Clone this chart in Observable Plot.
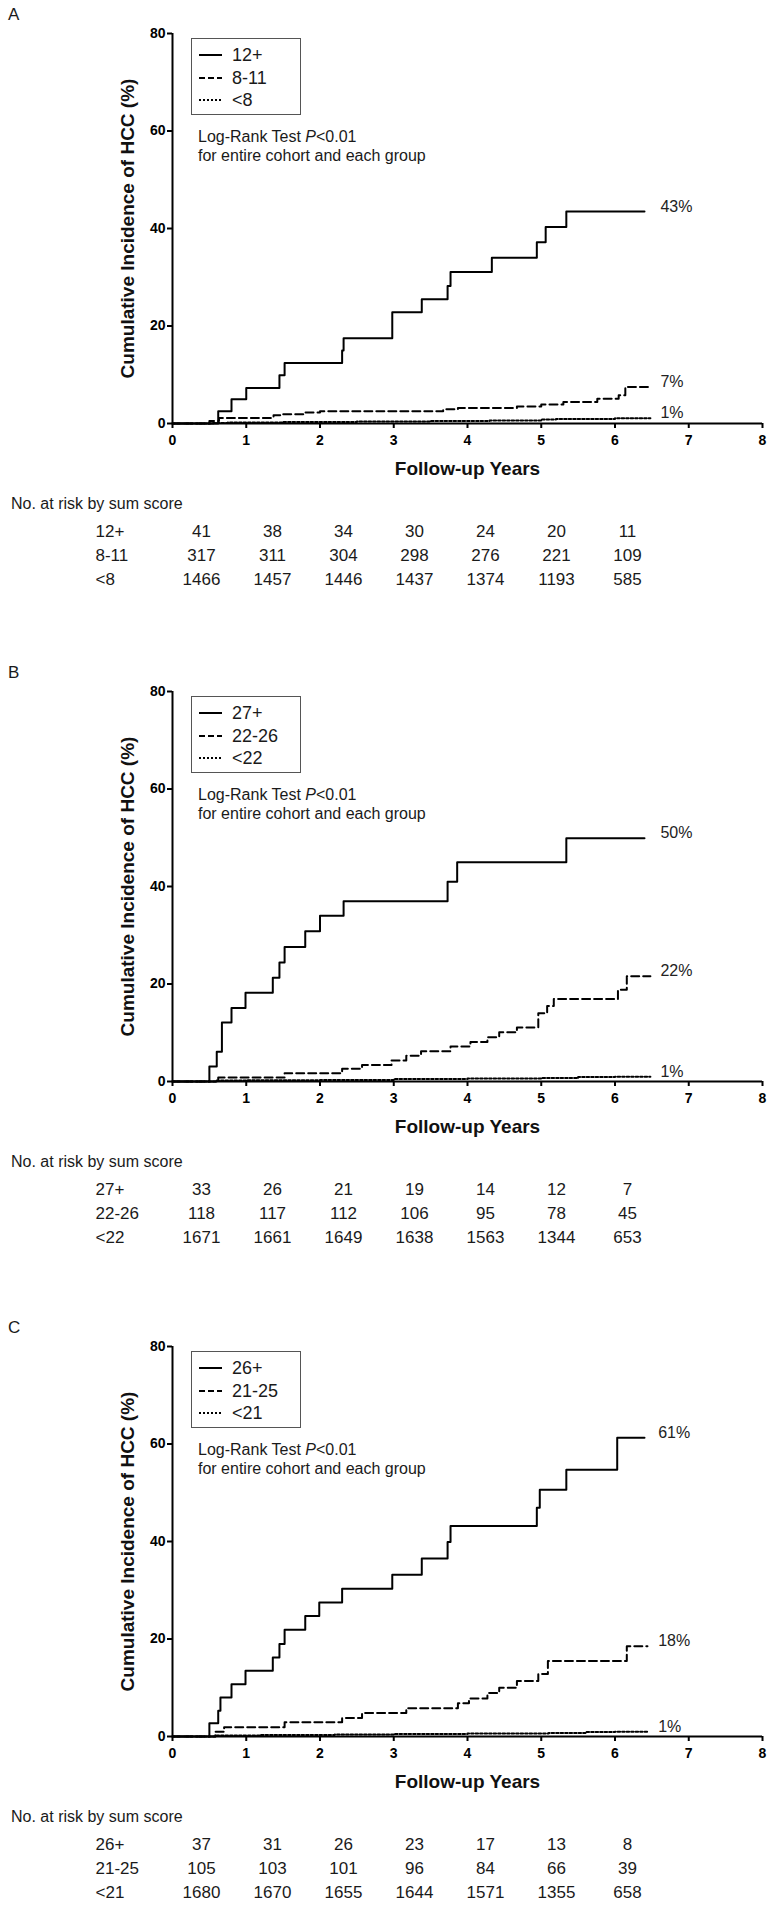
<!DOCTYPE html>
<html><head><meta charset="utf-8">
<script src="https://cdn.jsdelivr.net/npm/d3@7"></script>
<script src="https://cdn.jsdelivr.net/npm/@observablehq/plot@0.6"></script>
<style>
html,body{margin:0;padding:0;background:#fff;}
body{width:773px;height:1905px;overflow:hidden;position:relative;font-family:"Liberation Sans",Arial,sans-serif;color:#1a1a1a;}
.panel{position:absolute;left:0;width:773px;height:600px;}
.abs{position:absolute;}
.letter{left:8px;top:6px;font-size:17px;line-height:18px;}
.legend{left:191px;top:38px;width:110px;height:77px;box-sizing:border-box;border:1.5px solid #555;}
.lrow{position:absolute;left:0;height:22px;width:100%;}
.lrow svg{position:absolute;left:6px;top:6px;}
.lrow span{position:absolute;left:40px;top:0;font-size:18px;line-height:22px;}
.note{left:198px;top:127px;font-size:16px;line-height:19px;white-space:nowrap;}
.risktitle{left:11px;top:495px;font-size:16px;line-height:18px;white-space:nowrap;}
</style></head>
<body>
<script>
// ---------- data ----------
const panelLetters = ["A", "B", "C"];
const xTickValues = [0, 1, 2, 3, 4, 5, 6, 7, 8];
const yTickValues = [0, 20, 40, 60, 80];
const xLabel = "Follow-up Years";
const yLabel = "Cumulative Incidence of HCC (%)";

const groupsA = ["12+", "8-11", "<8"];
const groupsB = ["27+", "22-26", "<22"];
const groupsC = ["26+", "21-25", "<21"];

const endLabelsA = ["43%", "7%", "1%"];
const endLabelsB = ["50%", "22%", "1%"];
const endLabelsC = ["61%", "18%", "1%"];

// Panel A curves (years, cumulative %)
const tA1 = [0, 0.62, 0.8, 1.0, 1.45, 1.52, 2.3, 2.32, 2.98, 3.38, 3.73, 3.77, 4.33, 4.94, 5.06, 5.34, 6.4];
const vA1 = [0, 2.5, 5.0, 7.3, 9.9, 12.4, 15.0, 17.5, 22.8, 25.5, 28.2, 31.1, 34.0, 37.2, 40.3, 43.5, 43.5];
const tA2 = [0, 0.5, 0.63, 1.37, 1.5, 1.78, 2.0, 3.67, 3.87, 4.67, 5.0, 5.3, 5.76, 6.05, 6.14, 6.48];
const vA2 = [0, 0.5, 1.15, 1.7, 1.9, 2.25, 2.5, 2.9, 3.2, 3.5, 3.9, 4.4, 5.1, 5.8, 7.5, 7.5];
const tA3 = [0, 0.55, 0.75, 1.5, 2.5, 3.5, 4.3, 5.0, 5.2, 6.0, 6.48];
const vA3 = [0, 0.1, 0.2, 0.3, 0.4, 0.5, 0.6, 0.8, 0.9, 1.1, 1.1];

// Panel B curves
const tB1 = [0, 0.5, 0.6, 0.67, 0.8, 0.99, 1.36, 1.45, 1.52, 1.8, 2.0, 2.32, 3.73, 3.86, 5.34, 6.4];
const vB1 = [0, 3.1, 6.1, 12.1, 15.1, 18.2, 21.3, 24.4, 27.6, 30.8, 34.0, 37.0, 41.0, 45.0, 49.9, 49.9];
const tB2 = [0, 0.62, 1.52, 2.3, 2.57, 2.97, 3.17, 3.37, 3.77, 4.04, 4.27, 4.43, 4.67, 4.96, 5.08, 5.17, 6.04, 6.16, 6.48];
const vB2 = [0, 0.8, 1.7, 2.6, 3.4, 4.3, 5.3, 6.2, 7.2, 8.1, 9.1, 10.1, 11.1, 14.0, 15.5, 16.9, 18.8, 21.6, 21.6];
const tB3 = [0, 0.6, 1.0, 2.0, 3.0, 4.0, 5.0, 5.5, 6.0, 6.48];
const vB3 = [0, 0.2, 0.25, 0.3, 0.5, 0.6, 0.7, 0.9, 1.0, 1.0];

// Panel C curves
const tC1 = [0, 0.5, 0.62, 0.65, 0.8, 0.99, 1.36, 1.45, 1.52, 1.8, 1.99, 2.3, 2.98, 3.38, 3.73, 3.77, 4.94, 4.98, 5.34, 6.03, 6.4];
const vC1 = [0, 2.7, 5.3, 8.0, 10.7, 13.5, 16.2, 19.0, 21.9, 24.7, 27.5, 30.3, 33.2, 36.5, 39.9, 43.2, 46.9, 50.6, 54.7, 61.3, 61.3];
const tC2 = [0, 0.58, 0.7, 1.52, 2.3, 2.57, 3.17, 3.87, 4.02, 4.27, 4.43, 4.67, 4.96, 5.09, 6.16, 6.44];
const vC2 = [0, 1.0, 1.9, 2.9, 3.8, 4.8, 5.8, 6.8, 7.8, 8.9, 10.0, 11.4, 12.8, 15.5, 18.5, 18.5];
const tC3 = [0, 0.6, 1.2, 2.2, 3.0, 4.0, 5.1, 5.6, 6.0, 6.45];
const vC3 = [0, 0.2, 0.3, 0.4, 0.5, 0.6, 0.7, 0.9, 1.0, 1.0];

// Number at risk
const riskTitle = "No. at risk by sum score";
const riskYears = [0, 1, 2, 3, 4, 5, 6];
const riskA1 = [41, 38, 34, 30, 24, 20, 11];
const riskA2 = [317, 311, 304, 298, 276, 221, 109];
const riskA3 = [1466, 1457, 1446, 1437, 1374, 1193, 585];
const riskB1 = [33, 26, 21, 19, 14, 12, 7];
const riskB2 = [118, 117, 112, 106, 95, 78, 45];
const riskB3 = [1671, 1661, 1649, 1638, 1563, 1344, 653];
const riskC1 = [37, 31, 26, 23, 17, 13, 8];
const riskC2 = [105, 103, 101, 96, 84, 66, 39];
const riskC3 = [1680, 1670, 1655, 1644, 1571, 1355, 658];

// ---------- build ----------
const FONT = "'Liberation Sans', Arial, sans-serif";
const dashes = [null, "8,4", "2.5,2"];
const legendDashes = [null, "6,3", "2,2"];
const panelTops = [0, 658, 1313];

const panels = [
  {letter: panelLetters[0], groups: groupsA, labels: endLabelsA, t: [tA1, tA2, tA3], v: [vA1, vA2, vA3], risk: [riskA1, riskA2, riskA3]},
  {letter: panelLetters[1], groups: groupsB, labels: endLabelsB, t: [tB1, tB2, tB3], v: [vB1, vB2, vB3], risk: [riskB1, riskB2, riskB3]},
  {letter: panelLetters[2], groups: groupsC, labels: endLabelsC, t: [tC1, tC2, tC3], v: [vC1, vC2, vC3], risk: [riskC1, riskC2, riskC3]}
];

panels.forEach((p, pi) => {
  const div = document.createElement("div");
  div.className = "panel";
  div.style.top = panelTops[pi] + "px";
  document.body.appendChild(div);

  const series = p.groups.map((g, i) => p.t[i].map((t, j) => ({group: g, t, v: p.v[i][j]})));
  const labelX = d3.max(p.t, ts => ts[ts.length - 1]);
  const ends = p.groups.map((g, i) => ({x: labelX, v: p.v[i][p.v[i].length - 1], label: p.labels[i]}));

  const chart = Plot.plot({
    width: 773, height: 500,
    marginTop: 33, marginBottom: 77, marginLeft: 172, marginRight: 11,
    x: {domain: [0, 8]},
    y: {domain: [0, 80]},
    style: {fontFamily: FONT, color: "#000", background: "transparent", overflow: "visible"},
    marks: [
      Plot.axisX({ticks: xTickValues, tickSize: 5, tickPadding: 7, strokeWidth: 2, fontSize: 14, fontWeight: "bold", tickFormat: d => String(d), label: null}),
      Plot.axisY({ticks: yTickValues, tickSize: 5, tickPadding: 2, strokeWidth: 2, fontSize: 14, fontWeight: "bold", tickFormat: d => String(d), label: null}),
      Plot.text([xLabel], {text: d => d, frameAnchor: "bottom", textAnchor: "middle", dy: 51, fontSize: 19, fontWeight: "bold", fill: "#111"}),
      Plot.text([yLabel], {text: d => d, frameAnchor: "left", textAnchor: "middle", rotate: -90, dx: -45, fontSize: 19, fontWeight: "bold", fill: "#111"}),
      ...series.map((s, i) => Plot.line(s, {x: "t", y: "v", curve: "step-after", stroke: "#000", strokeWidth: 2, strokeDasharray: dashes[i] ?? undefined})),
      Plot.ruleX([0], {stroke: "#000", strokeWidth: 2}),
      Plot.ruleY([0], {stroke: "#000", strokeWidth: 2}),
      Plot.text(ends, {x: "x", y: "v", text: "label", dx: 10, dy: -5, textAnchor: "start", fontSize: 16, fill: "#222"})
    ]
  });
  chart.style.position = "absolute";
  chart.style.left = "0px";
  chart.style.top = "0px";
  div.appendChild(chart);

  const letter = document.createElement("div");
  letter.className = "abs letter";
  letter.textContent = p.letter;
  div.appendChild(letter);

  const legend = document.createElement("div");
  legend.className = "abs legend";
  p.groups.forEach((g, i) => {
    const row = document.createElement("div");
    row.className = "lrow";
    row.style.top = (5 + i * 22.5) + "px";
    row.innerHTML = `<svg width="26" height="10"><line x1="1" y1="5" x2="24" y2="5" stroke="#000" stroke-width="2" ${legendDashes[i] ? `stroke-dasharray="${legendDashes[i]}"` : ""}/></svg><span></span>`;
    row.querySelector("span").textContent = g;
    legend.appendChild(row);
  });
  div.appendChild(legend);

  const note = document.createElement("div");
  note.className = "abs note";
  note.innerHTML = "Log-Rank Test <i>P</i>&lt;0.01<br>for entire cohort and each group";
  div.appendChild(note);

  const rt = document.createElement("div");
  rt.className = "abs risktitle";
  rt.textContent = riskTitle;
  div.appendChild(rt);

  const riskRows = p.groups.flatMap((g, i) => riskYears.map((yr, j) => ({group: g, yr, n: p.risk[i][j]})));
  const riskPlot = Plot.plot({
    width: 773, height: 75,
    marginLeft: 199, marginRight: 145, marginTop: 13, marginBottom: 13,
    x: {type: "point", domain: riskYears, padding: 0, axis: null},
    y: {type: "point", domain: p.groups, padding: 0, axis: null},
    style: {fontFamily: FONT, color: "#1a1a1a", background: "transparent", overflow: "visible"},
    marks: [
      Plot.text(riskRows, {x: "yr", y: "group", text: d => String(d.n), fontSize: 17, fill: "#1a1a1a"}),
      Plot.text(p.groups, {y: d => d, text: d => d, frameAnchor: "left", textAnchor: "start", dx: -104, fontSize: 17, fill: "#1a1a1a"})
    ]
  });
  riskPlot.style.position = "absolute";
  riskPlot.style.left = "0px";
  riskPlot.style.top = "517px";
  div.appendChild(riskPlot);
});
</script>
</body></html>
